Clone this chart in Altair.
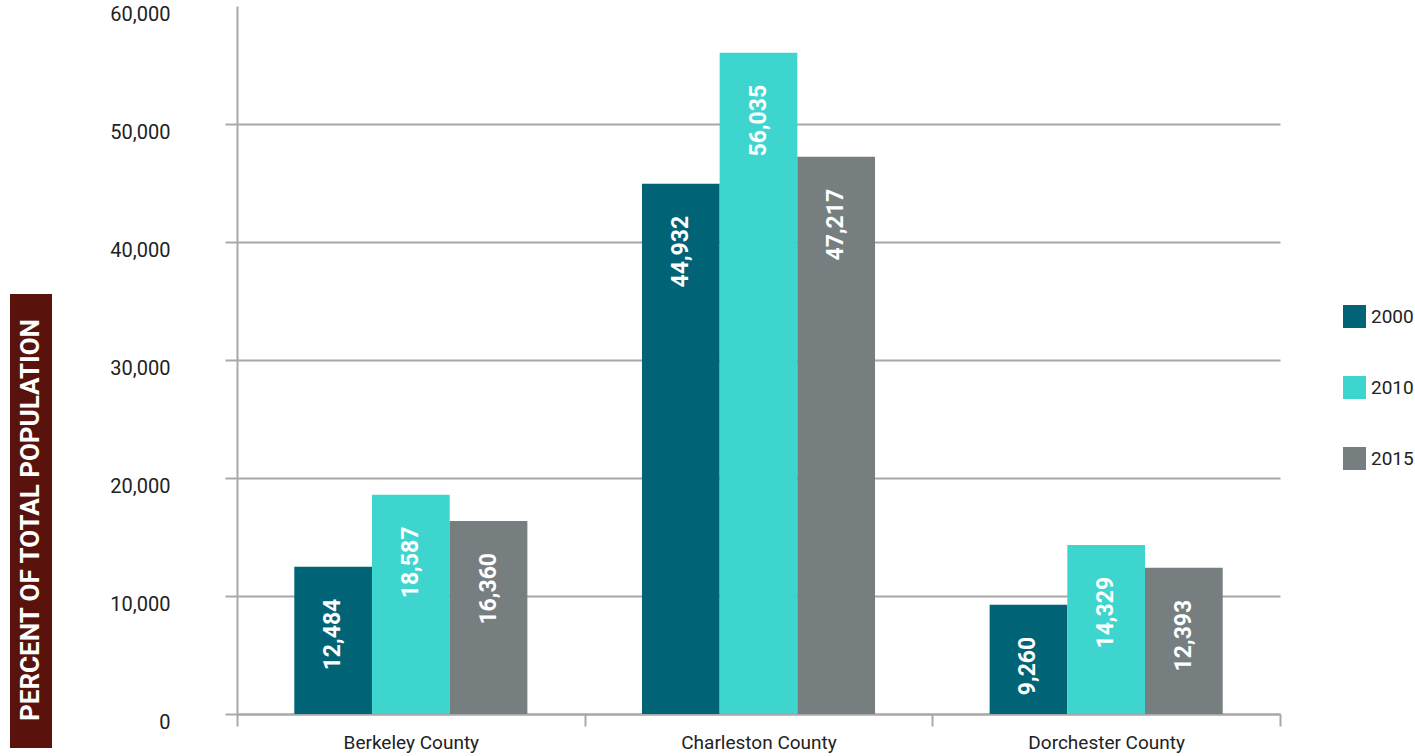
import altair as alt
import pandas as pd

counties = ["Berkeley County", "Charleston County", "Dorchester County"]
years = ["2000", "2010", "2015"]
values_2000 = [12484, 44932, 9260]
values_2010 = [18587, 56035, 14329]
values_2015 = [16360, 47217, 12393]
y_ticks = [0, 10000, 20000, 30000, 40000, 50000, 60000]
colors = ["#006476", "#3ed5cf", "#767e7f"]
axis_title = "PERCENT OF TOTAL POPULATION"

rows = []
for yr, vals in zip(years, [values_2000, values_2010, values_2015]):
    for c, v in zip(counties, vals):
        rows.append({"county": c, "year": yr, "value": v})
df = pd.DataFrame(rows)

FONT = "Roboto"
GRID = "#a8a8a8"
W, H = 1043, 708

x_enc = alt.X(
    "county:N", sort=counties, title=None,
    scale=alt.Scale(paddingInner=0, paddingOuter=0),
    axis=alt.Axis(labelAngle=0, tickBand="extent", tickSize=12, tickColor=GRID,
                  tickWidth=2, domainColor=GRID, domainWidth=2, labelFontSize=19,
                  labelColor="#222222", labelFont=FONT, labelPadding=7, grid=False),
)
y_enc = alt.Y(
    "value:Q", title=None,
    scale=alt.Scale(domain=[0, 60000], nice=False),
    axis=alt.Axis(values=y_ticks, format=",d", tickSize=12, tickColor=GRID, tickWidth=2,
                  tickOpacity={"condition": {"test": "datum.value >= 60000", "value": 0}, "value": 1},
                  domainColor=GRID, domainWidth=2, gridColor=GRID, gridWidth=2,
                  gridOpacity={"condition": {"test": "datum.value >= 60000", "value": 0}, "value": 1},
                  labelFontSize=20, labelColor="#222222", labelFont=FONT,
                  labelPadding=55, labelOffset=8),
)
xoff_scale = alt.Scale(paddingInner=0, paddingOuter=0.7375)

bars = alt.Chart(df).mark_bar().encode(
    x=x_enc, y=y_enc,
    xOffset=alt.XOffset("year:N", sort=years, scale=xoff_scale),
    color=alt.Color("year:N", scale=alt.Scale(domain=years, range=colors),
                    legend=alt.Legend(title=None, orient="none", legendX=1106, legendY=299,
                                      symbolType="square", symbolSize=529,
                                      symbolStrokeWidth=0, labelFontSize=19,
                                      labelFont=FONT, labelColor="#222222",
                                      rowPadding=48, labelOffset=5)),
)

labels = alt.Chart(df).mark_text(
    angle=270, align="right", baseline="middle", dx=-32, fontSize=23,
    fontWeight="bold", color="white", font=FONT,
).encode(
    x=alt.X("county:N", sort=counties),
    xOffset=alt.XOffset("year:N", sort=years),
    y=alt.Y("value:Q"),
    text=alt.Text("value:Q", format=",d"),
)

title_df = pd.DataFrame({"t": [axis_title]})
box = alt.Chart(title_df).mark_rect(color="#5a120c").encode(
    x=alt.value(-227), x2=alt.value(-185), y=alt.value(288), y2=alt.value(742)
)
title_text = alt.Chart(title_df).mark_text(
    angle=270, align="center", baseline="middle", fontSize=26, fontWeight="bold",
    color="white", font=FONT,
).encode(x=alt.value(-206), y=alt.value(514), text="t:N")

chart = alt.layer(bars, labels, box, title_text).properties(
    width=W, height=H,
    background="white",
    autosize=alt.AutoSizeParams(type="none"),
    padding={"left": 237, "top": 6, "right": 135, "bottom": 42},
).configure_view(stroke=None)

chart.save("out.html", embed_options={"renderer": "svg", "actions": False})
